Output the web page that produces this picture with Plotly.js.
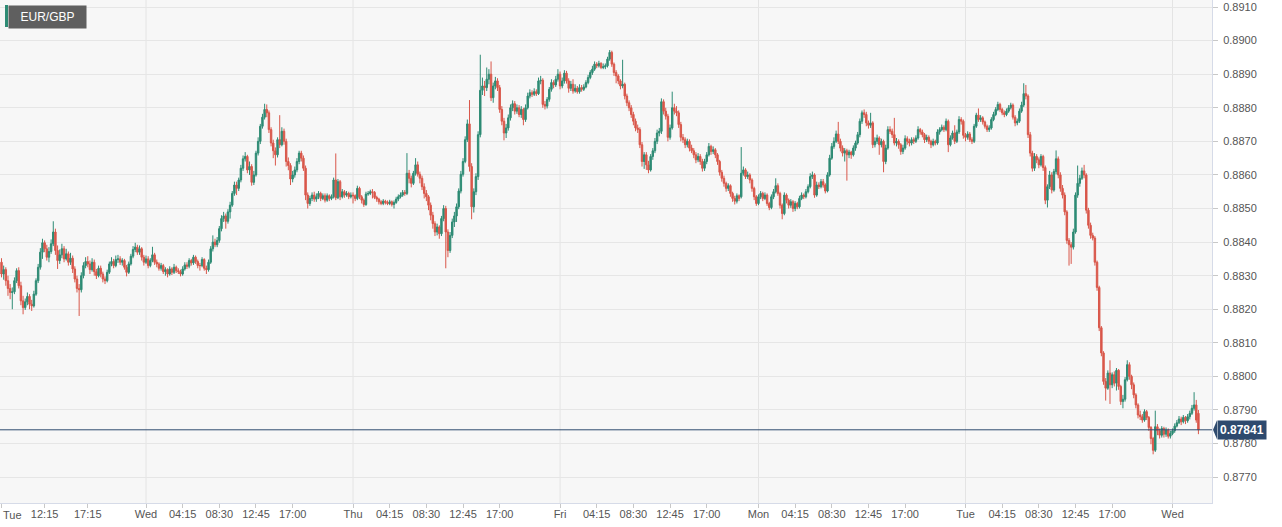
<!DOCTYPE html>
<html><head><meta charset="utf-8">
<script src="https://cdn.plot.ly/plotly-3.0.1.min.js"></script>
<style>html,body{margin:0;padding:0;background:#fff;overflow:hidden}#chart{width:1282px;height:527px}</style>
</head><body><div id="chart"></div>
<script>
const symbol = 'EUR/GBP';
const tickIdx = [0,20,40,67,84,101,118,135,163,180,197,214,231,259,276,293,310,327,351,368,385,402,419,447,464,481,498,515,543];
const tickText = ['Tue','12:15','17:15','Wed','04:15','08:30','12:45','17:00','Thu','04:15','08:30','12:45','17:00','Fri','04:15','08:30','12:45','17:00','Mon','04:15','08:30','12:45','17:00','Tue','04:15','08:30','12:45','17:00','Wed'];
const dayIdx = [67,163,259,351,447,543];

// prices in units of 0.00001
const openPts = [
88340,88305,88318,88285,88262,88250,88252,88285,88315,88270,
88225,88205,88222,88238,88215,88210,88245,88285,88325,88370,
88398,88380,88355,88372,88395,88430,88375,88345,88362,88380,
88350,88365,88340,88352,88320,88290,88262,88258,88300,88330,
88342,88335,88318,88340,88312,88300,88322,88305,88290,88285,
88310,88335,88342,88330,88348,88350,88340,88345,88325,88310,
88335,88358,88378,88385,88370,88380,88355,88340,88350,88330,
88345,88362,88340,88335,88322,88330,88312,88318,88305,88320,
88310,88325,88315,88312,88305,88320,88332,88328,88345,88338,
88355,88342,88330,88330,88348,88322,88318,88340,88380,88400,
88392,88405,88440,88470,88478,88462,88490,88510,88545,88570,
88560,88585,88620,88648,88655,88615,88625,88578,88600,88665,
88700,88745,88772,88795,88785,88735,88695,88672,88660,88705,
88690,88730,88700,88640,88628,88588,88600,88615,88640,88665,
88650,88620,88540,88515,88530,88540,88528,88535,88545,88530,
88538,88525,88538,88530,88535,88585,88532,88580,88535,88550,
88540,88545,88535,88540,88538,88530,88560,88535,88525,88512,
88543,88545,88550,88548,88533,88528,88520,88515,88522,88518,
88515,88520,88512,88518,88528,88535,88540,88548,88545,88605,
88590,88575,88605,88630,88602,88590,88565,88545,88535,88510,
88480,88455,88430,88445,88425,88470,88500,88430,88375,88420,
88460,88478,88505,88552,88602,88640,88705,88752,88625,88505,
88550,88595,88720,88852,88865,88860,88885,88900,88830,88865,
88880,88860,88795,88760,88725,88740,88770,88800,88812,88790,
88800,88780,88795,88765,88800,88835,88845,88840,88848,88842,
88880,88882,88810,88805,88825,88855,88875,88868,88885,88900,
88865,88880,88903,88880,88858,88870,88850,88858,88848,88860,
88855,88862,88875,88890,88905,88915,88930,88925,88932,88920,
88922,88925,88945,88965,88930,88905,88895,88880,88865,88870,
88835,88815,88800,88780,88760,88740,88735,88690,88640,88660,
88630,88615,88655,88672,88700,88725,88730,88818,88790,88775,
88712,88740,88800,88790,88785,88750,88712,88705,88690,88700,
88680,88672,88660,88645,88655,88640,88620,88640,88660,88685,
88670,88675,88660,88640,88608,88590,88575,88560,88568,88545,
88530,88522,88538,88535,88605,88615,88595,88600,88585,88560,
88535,88515,88535,88545,88530,88540,88515,88503,88535,88550,
88568,88545,88510,88485,88540,88525,88510,88520,88500,88515,
88505,88530,88540,88535,88550,88565,88595,88600,88540,88570,
88565,88580,88570,88552,88600,88650,88685,88700,88722,88700,
88680,88665,88672,88660,88668,88660,88680,88695,88720,88760,
88785,88780,88755,88748,88755,88690,88700,88710,88690,88700,
88640,88680,88735,88730,88720,88695,88700,88690,88670,88680,
88708,88700,88695,88705,88700,88710,88735,88728,88720,88705,
88712,88700,88690,88700,88695,88728,88735,88742,88735,88760,
88690,88710,88725,88700,88728,88765,88760,88718,88712,88722,
88705,88700,88745,88778,88765,88770,88758,88745,88735,88740,
88765,88780,88795,88810,88795,88785,88780,88790,88800,88808,
88772,88755,88760,88790,88808,88842,88835,88720,88665,88620,
88655,88645,88630,88655,88622,88525,88565,88600,88555,88610,
88648,88600,88560,88540,88490,88405,88392,88385,88430,88540,
88575,88590,88612,88600,88495,88450,88420,88412,88340,88265,
88145,88070,87985,87965,88010,87975,88005,87980,88018,87970,
87925,87932,87990,88035,88000,87975,87945,87915,87885,87880,
87870,87895,87878,87848,87815,87780,87850,87838,87825,87845,
87828,87840,87822,87830,87838,87852,87862,87873,87865,87878,
87868,87880,87890,87905,87915,87890];
const highPts = [
88352,88330,88325,88300,88275,88265,88295,88322,88325,88282,
88240,88232,88250,88245,88228,88255,88292,88335,88382,88410,
88405,88392,88385,88408,88462,88440,88390,88378,88395,88388,
88380,88372,88368,88360,88328,88300,88275,88310,88340,88355,
88358,88345,88352,88348,88320,88330,88330,88312,88298,88318,
88342,88355,88350,88360,88362,88358,88352,88350,88332,88342,
88365,88388,88398,88392,88390,88385,88362,88360,88358,88352,
88386,88368,88348,88340,88338,88335,88325,88322,88328,88325,
88335,88330,88322,88318,88328,88340,88340,88352,88350,88362,
88360,88348,88338,88355,88352,88330,88348,88388,88420,88410,
88415,88448,88480,88490,88485,88498,88520,88552,88580,88580,
88592,88630,88658,88668,88660,88640,88632,88612,88672,88712,
88752,88782,88812,88810,88792,88742,88705,88682,88712,88778,
88742,88738,88708,88652,88635,88612,88625,88650,88672,88672,
88658,88628,88548,88538,88548,88550,88545,88552,88550,88545,
88545,88545,88542,88542,88592,88664,88588,88585,88558,88555,
88552,88550,88548,88548,88542,88568,88565,88540,88530,88550,
88552,88556,88558,88552,88538,88532,88525,88528,88526,88524,
88526,88524,88524,88535,88542,88548,88555,88555,88665,88615,
88598,88612,88650,88640,88610,88598,88575,88555,88540,88518,
88490,88462,88455,88450,88478,88510,88508,88438,88430,88470,
88490,88515,88560,88612,88650,88715,88765,88823,88635,88560,
88605,88730,88958,88890,88880,88920,88915,88938,88875,88892,
88888,88868,88805,88770,88752,88780,88810,88822,88820,88810,
88808,88805,88800,88810,88845,88855,88852,88858,88855,88890,
88895,88888,88820,88832,88862,88885,88882,88895,88915,88908,
88890,88912,88910,88888,88880,88885,88870,88865,88870,88868,
88870,88882,88898,88912,88925,88938,88936,88940,88936,88932,
88932,88952,88972,88970,88935,88912,88900,88885,88943,88875,
88842,88822,88808,88788,88768,88750,88742,88698,88668,88668,
88642,88662,88680,88710,88735,88740,88828,88825,88800,88782,
88750,88848,88812,88805,88792,88758,88722,88712,88708,88706,
88690,88680,88668,88665,88662,88648,88648,88668,88695,88690,
88685,88680,88665,88645,88615,88598,88580,88575,88572,88550,
88538,88545,88542,88683,88625,88620,88610,88605,88590,88565,
88540,88542,88552,88550,88548,88545,88520,88542,88558,88590,
88575,88550,88515,88548,88545,88530,88528,88525,88522,88520,
88538,88548,88545,88558,88572,88605,88610,88605,88580,88578,
88588,88588,88575,88608,88660,88695,88712,88732,88758,88708,
88688,88680,88678,88675,88672,88688,88702,88728,88768,88792,
88795,88788,88762,88785,88760,88712,88720,88715,88708,88705,
88690,88745,88745,88738,88770,88710,88706,88695,88690,88718,
88715,88708,88712,88712,88718,88745,88740,88735,88725,88720,
88718,88705,88708,88705,88736,88742,88750,88748,88768,88765,
88718,88732,88748,88735,88775,88772,88765,88725,88730,88728,
88712,88752,88785,88798,88778,88775,88762,88750,88748,88772,
88788,88802,88818,88815,88800,88792,88798,88808,88815,88813,
88778,88768,88798,88818,88873,88868,88840,88728,88672,88665,
88662,88652,88662,88660,88628,88572,88612,88608,88618,88673,
88655,88608,88570,88548,88495,88412,88400,88440,88548,88628,
88600,88622,88630,88605,88502,88458,88428,88418,88345,88270,
88150,88075,87995,88018,88048,88012,88015,88025,88022,87975,
87945,87998,88048,88042,88005,87982,87950,87920,87898,87888,
87902,87900,87882,87852,87820,87898,87858,87845,87852,87850,
87848,87845,87838,87845,87860,87870,87882,87880,87885,87882,
87888,87898,87915,87953,87930,87900];
const lowPts = [
88295,88288,88270,88240,88230,88200,88245,88278,88262,88212,
88185,88198,88212,88200,88195,88205,88240,88278,88318,88350,
88370,88345,88340,88365,88388,88362,88320,88335,88352,88340,
88345,88330,88332,88308,88280,88250,88180,88250,88292,88322,
88325,88305,88312,88300,88290,88295,88295,88280,88275,88280,
88305,88328,88322,88325,88338,88332,88330,88318,88298,88305,
88330,88352,88370,88362,88362,88345,88330,88335,88322,88325,
88340,88332,88325,88315,88315,88305,88300,88295,88300,88302,
88305,88308,88305,88298,88300,88315,88320,88322,88330,88332,
88335,88322,88315,88325,88315,88305,88312,88335,88372,88385,
88385,88398,88432,88460,88440,88455,88470,88505,88538,88540,
88552,88578,88612,88640,88605,88600,88568,88570,88595,88658,
88692,88738,88765,88772,88725,88685,88650,88628,88652,88680,
88685,88690,88625,88614,88570,88578,88592,88608,88632,88640,
88612,88525,88500,88508,88522,88520,88520,88528,88522,88525,
88518,88520,88522,88525,88530,88525,88528,88525,88530,88532,
88535,88528,88530,88515,88522,88525,88528,88515,88505,88508,
88538,88540,88530,88528,88520,88512,88510,88510,88512,88510,
88510,88506,88500,88514,88522,88530,88535,88538,88540,88575,
88563,88570,88598,88595,88575,88555,88530,88522,88495,88465,
88440,88418,88420,88410,88418,88462,88322,88355,88368,88412,
88445,88460,88498,88545,88595,88635,88698,88610,88468,88488,
88540,88585,88712,88838,88835,88850,88870,88820,88815,88855,
88850,88785,88748,88703,88710,88732,88762,88790,88780,88782,
88772,88770,88748,88758,88795,88828,88832,88835,88835,88838,
88870,88800,88795,88798,88818,88848,88858,88862,88878,88855,
88858,88872,88872,88845,88850,88842,88845,88842,88842,88848,
88850,88858,88870,88885,88898,88910,88918,88920,88915,88915,
88915,88920,88940,88922,88895,88873,88870,88855,88858,88825,
88805,88790,88770,88748,88730,88725,88680,88625,88618,88615,
88605,88610,88645,88665,88692,88715,88722,88780,88765,88700,
88705,88735,88780,88775,88740,88700,88695,88680,88682,88670,
88665,88650,88635,88638,88630,88610,88612,88632,88655,88660,
88662,88650,88630,88598,88580,88565,88550,88552,88535,88520,
88512,88515,88522,88530,88598,88588,88588,88575,88550,88525,
88508,88510,88528,88522,88525,88508,88495,88498,88528,88545,
88538,88500,88468,88480,88515,88500,88502,88490,88492,88498,
88500,88525,88528,88530,88545,88560,88588,88532,88535,88558,
88560,88562,88545,88548,88595,88645,88678,88695,88692,88670,
88655,88640,88583,88650,88648,88655,88672,88690,88712,88752,
88770,88745,88738,88740,88680,88682,88692,88660,88682,88608,
88632,88675,88722,88710,88688,88685,88678,88660,88662,88675,
88690,88685,88688,88692,88695,88705,88720,88712,88695,88698,
88692,88680,88685,88688,88690,88720,88730,88728,88730,88668,
88685,88705,88692,88695,88722,88750,88708,88700,88705,88698,
88692,88695,88740,88758,88758,88750,88738,88728,88728,88735,
88760,88775,88790,88788,88778,88772,88775,88785,88795,88765,
88745,88748,88755,88785,88802,88825,88710,88655,88610,88612,
88635,88620,88625,88612,88513,88503,88558,88545,88550,88602,
88590,88550,88530,88480,88395,88330,88335,88378,88425,88532,
88565,88585,88590,88485,88440,88410,88405,88330,88255,88135,
88060,87975,87928,87960,87918,87965,87970,87958,87960,87915,
87905,87925,87985,87990,87962,87935,87905,87875,87870,87862,
87865,87870,87838,87798,87768,87775,87825,87815,87818,87818,
87820,87815,87815,87825,87832,87848,87858,87855,87860,87858,
87862,87872,87885,87898,87862,87828];
const closePts = [
88305,88318,88285,88262,88250,88252,88285,88315,88270,88225,
88205,88222,88238,88215,88210,88245,88285,88325,88370,88398,
88380,88355,88372,88395,88430,88375,88345,88362,88380,88350,
88365,88340,88352,88320,88290,88262,88258,88300,88330,88342,
88335,88318,88340,88312,88300,88322,88305,88290,88285,88310,
88335,88342,88330,88348,88350,88340,88345,88325,88310,88335,
88358,88378,88385,88370,88380,88355,88340,88350,88330,88345,
88362,88340,88335,88322,88330,88312,88318,88305,88320,88310,
88325,88315,88312,88305,88320,88332,88328,88345,88338,88355,
88342,88330,88330,88348,88322,88318,88340,88380,88400,88392,
88405,88440,88470,88478,88462,88490,88510,88545,88570,88560,
88585,88620,88648,88655,88615,88625,88578,88600,88665,88700,
88745,88772,88795,88785,88735,88695,88672,88660,88705,88690,
88730,88700,88640,88628,88588,88600,88615,88640,88665,88650,
88620,88540,88515,88530,88540,88528,88535,88545,88530,88538,
88525,88538,88530,88535,88585,88532,88580,88535,88550,88540,
88545,88535,88540,88538,88530,88560,88535,88525,88512,88543,
88545,88550,88548,88533,88528,88520,88515,88522,88518,88515,
88520,88512,88518,88528,88535,88540,88548,88545,88605,88590,
88575,88605,88630,88602,88590,88565,88545,88535,88510,88480,
88455,88430,88445,88425,88470,88500,88430,88375,88420,88460,
88478,88505,88552,88602,88640,88705,88752,88625,88505,88550,
88595,88720,88852,88865,88860,88885,88900,88830,88865,88880,
88860,88795,88760,88725,88740,88770,88800,88812,88790,88800,
88780,88795,88765,88800,88835,88845,88840,88848,88842,88880,
88882,88810,88805,88825,88855,88875,88868,88885,88900,88865,
88880,88903,88880,88858,88870,88850,88858,88848,88860,88855,
88862,88875,88890,88905,88915,88930,88925,88932,88920,88922,
88925,88945,88965,88930,88905,88895,88880,88865,88870,88835,
88815,88800,88780,88760,88740,88735,88690,88640,88660,88630,
88615,88655,88672,88700,88725,88730,88818,88790,88775,88712,
88740,88800,88790,88785,88750,88712,88705,88690,88700,88680,
88672,88660,88645,88655,88640,88620,88640,88660,88685,88670,
88675,88660,88640,88608,88590,88575,88560,88568,88545,88530,
88522,88538,88530,88605,88615,88595,88600,88585,88560,88535,
88515,88535,88545,88530,88540,88515,88503,88535,88550,88568,
88545,88510,88485,88540,88525,88510,88520,88500,88515,88505,
88530,88540,88535,88550,88565,88595,88600,88540,88570,88565,
88580,88570,88552,88600,88650,88685,88700,88722,88700,88680,
88665,88672,88660,88668,88660,88680,88695,88720,88760,88785,
88780,88755,88748,88755,88690,88700,88710,88690,88700,88640,
88680,88735,88730,88720,88695,88700,88690,88670,88680,88708,
88700,88695,88705,88700,88710,88735,88728,88720,88705,88712,
88700,88690,88700,88695,88728,88735,88742,88735,88760,88690,
88710,88725,88700,88728,88765,88760,88718,88712,88722,88705,
88700,88745,88778,88765,88770,88758,88745,88735,88740,88765,
88780,88795,88810,88795,88785,88780,88790,88800,88808,88772,
88755,88760,88790,88808,88842,88835,88720,88665,88620,88655,
88645,88630,88655,88622,88525,88565,88600,88555,88610,88648,
88600,88560,88540,88490,88405,88392,88385,88430,88540,88575,
88590,88612,88600,88495,88450,88420,88412,88340,88265,88145,
88070,87985,87965,88010,87975,88005,87980,88018,87970,87925,
87932,87990,88035,88000,87975,87945,87915,87885,87880,87870,
87895,87878,87848,87815,87780,87850,87838,87825,87845,87828,
87840,87822,87830,87838,87852,87862,87873,87865,87878,87868,
87880,87890,87905,87915,87870,87841];

const toPrice = v => v / 100000;
const xIdx = closePts.map((_, i) => i);
const lastPrice = toPrice(closePts[closePts.length - 1]);

const UP = '#2e8b74', DOWN = '#d9574a', NAVY = '#2e4a6e';
const FONT = '"Liberation Sans", Arial, Helvetica, sans-serif';

const trace = {
  type: 'candlestick',
  x: xIdx,
  open: openPts.map(toPrice),
  high: highPts.map(toPrice),
  low: lowPts.map(toPrice),
  close: closePts.map(toPrice),
  increasing: {line: {color: UP, width: 1}, fillcolor: UP},
  decreasing: {line: {color: DOWN, width: 1}, fillcolor: DOWN},
  whiskerwidth: 0,
  hoverinfo: 'skip',
  showlegend: false
};

const shapes = dayIdx.map(d => ({
  type: 'line', xref: 'x', yref: 'paper', x0: d, x1: d, y0: 0, y1: 1,
  line: {color: '#e4e4e4', width: 1}, layer: 'below'
}));
shapes.push({
  type: 'line', xref: 'paper', yref: 'y', x0: 0, x1: 1, y0: lastPrice, y1: lastPrice,
  line: {color: NAVY, width: 1}, layer: 'above'
});
shapes.push({
  type: 'path', xref: 'paper', yref: 'y', xsizemode: 'pixel', ysizemode: 'pixel',
  xanchor: 1, yanchor: lastPrice, path: 'M 1,0 L 5,9.5 L 5,-9.5 Z',
  fillcolor: NAVY, line: {width: 0}, layer: 'above'
});
shapes.push({
  type: 'rect', xref: 'paper', yref: 'paper', xsizemode: 'pixel', ysizemode: 'pixel',
  xanchor: 0, yanchor: 1, x0: 5, x1: 8, y0: -5, y1: -27,
  fillcolor: UP, line: {width: 0}, layer: 'above'
});

// first tick label sits at the left edge, so it is drawn left-aligned
const axisTickText = tickText.map((t, i) => (i === 0 ? '' : t));

const layout = {
  width: 1282, height: 527,
  margin: {l: 0, r: 70, t: 0, b: 24, pad: 0},
  paper_bgcolor: '#ffffff', plot_bgcolor: '#f7f7f7',
  showlegend: false, hovermode: false, dragmode: false,
  boxgap: 0.05,
  font: {family: FONT, size: 11, color: '#555555'},
  xaxis: {
    range: [-0.7, 561.3], tickmode: 'array', tickvals: tickIdx, ticktext: axisTickText,
    showgrid: false, zeroline: false, showline: true, mirror: true,
    linecolor: '#d6dbe8', linewidth: 1, ticks: 'outside', ticklen: 4, tickcolor: '#c8c8c8',
    rangeslider: {visible: false}, fixedrange: true, ticklabelstandoff: -3,
    tickfont: {family: FONT, size: 11, color: '#555555'}
  },
  yaxis: {
    side: 'right', range: [0.87623, 0.89121], tick0: 0.877, dtick: 0.001, tickformat: '.4f',
    showgrid: true, gridcolor: '#e6e6e6', gridwidth: 1, zeroline: false,
    showline: true, mirror: true, linecolor: '#d6dbe8', linewidth: 1,
    ticks: 'outside', ticklen: 5, tickcolor: '#c8c8c8', fixedrange: true,
    ticklabelstandoff: 3,
    tickfont: {family: FONT, size: 11, color: '#555555'}
  },
  shapes: shapes,
  annotations: [
    {
      xref: 'paper', yref: 'paper', x: 0, y: 0, xanchor: 'left', yanchor: 'top',
      xshift: 1, yshift: -4, showarrow: false, text: tickText[0],
      font: {family: FONT, size: 11, color: '#555555'}, borderpad: 1
    },
    {
      xref: 'paper', yref: 'y', x: 1, y: lastPrice, xanchor: 'left', yanchor: 'middle',
      xshift: 5, showarrow: false, text: '<b>' + lastPrice.toFixed(5) + '</b>',
      font: {family: FONT, size: 12, color: '#ffffff'}, bgcolor: NAVY, borderpad: 2
    },
    {
      xref: 'paper', yref: 'paper', x: 0, y: 1, xanchor: 'left', yanchor: 'top',
      xshift: 8, yshift: -5, showarrow: false, text: symbol,
      font: {family: FONT, size: 12, color: '#ffffff'}, bgcolor: '#5f5f5f',
      width: 77, height: 22, borderpad: 0, align: 'center', valign: 'middle'
    }
  ]
};

Plotly.newPlot('chart', [trace], layout, {staticPlot: true, displayModeBar: false});
</script>
</body></html>
